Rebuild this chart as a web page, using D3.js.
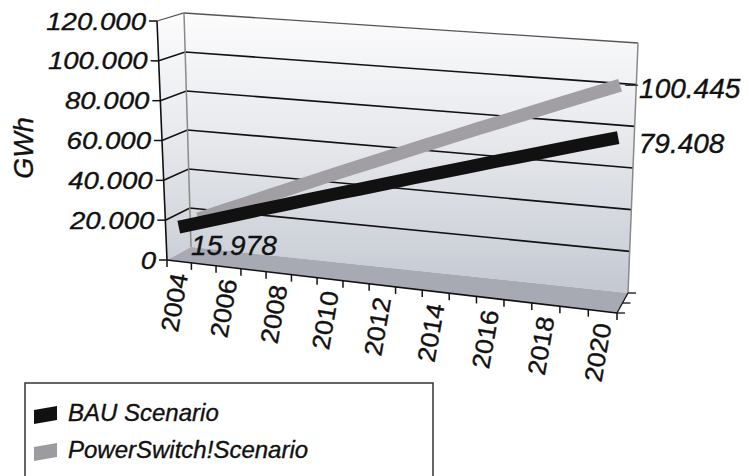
<!DOCTYPE html>
<html>
<head>
<meta charset="utf-8">
<script src="https://cdn.jsdelivr.net/npm/d3@7"></script>
<style>
  body { margin: 0; background: #fff; }
  svg { display: block; }
  text { font-family: "Liberation Sans", Arial, sans-serif; fill: #111; stroke: #111; stroke-width: 0.35px; }
</style>
</head>
<body>
<svg id="chart" width="749" height="476"></svg>
<script>
// data
const years = [2004, 2005, 2006, 2007, 2008, 2009, 2010, 2011, 2012, 2013, 2014, 2015, 2016, 2017, 2018, 2019, 2020]
const bau = [15.978, 19.9, 23.9, 27.9, 31.8, 35.8, 39.8, 43.7, 47.7, 51.7, 55.6, 59.6, 63.6, 67.5, 71.5, 75.5, 79.408]
const powerSwitch = [15.978, 21.3, 26.5, 31.8, 37.1, 42.4, 47.7, 52.9, 58.2, 63.5, 68.8, 74.1, 79.3, 84.6, 89.9, 95.2, 100.445]
const yTicks = [0, 20, 40, 60, 80, 100, 120]
const yTickLabels = ["0", "20.000", "40.000", "60.000", "80.000", "100.000", "120.000"]
const labelYears = [2004, 2006, 2008, 2010, 2012, 2014, 2016, 2018, 2020]
const seriesNames = ["BAU Scenario", "PowerSwitch!Scenario"]

const svg = d3.select("#chart")

//corners of the 3d box on screen (front/back, left/right, bottom/top)
const A = [167, 260], B = [157, 21]   // front left
const E = [617, 313], F = [626, 60]   // front right
const C = [191, 247], D = [184, 13]   // back left
const G = [628, 293], H = [638, 43]   // back right

//perspective: categories get wider to the right
const depthRatio = 1.09
const warp = t => t / (depthRatio + (1 - depthRatio) * t)

const xScale = d3.scaleLinear().domain([2003.5, 2020.5]).range([0, 1])
const vScale = d3.scaleLinear().domain([0, 120]).range([0, 1])

function lerp(p, q, t){ return [p[0] + (q[0] - p[0]) * t, p[1] + (q[1] - p[1]) * t] }
function project(u, v, w){
    const front = lerp(lerp(A, E, u), lerp(B, F, u), v)
    const back = lerp(lerp(C, G, u), lerp(D, H, u), v)
    return lerp(front, back, w)
}
const uOf = year => warp(xScale(year))

//wall gradient
const defs = svg.append("defs")
const grad = defs.append("linearGradient").attr("id", "wall")
    .attr("gradientUnits", "userSpaceOnUse")
    .attr("x1", 0).attr("y1", 13).attr("x2", 0).attr("y2", 300)
grad.append("stop").attr("offset", 0).attr("stop-color", "#fcfcfd")
grad.append("stop").attr("offset", 0.45).attr("stop-color", "#e6e8ec")
grad.append("stop").attr("offset", 1).attr("stop-color", "#c2c7d0")

const poly = pts => "M" + pts.map(p => p.join(",")).join("L") + "Z"

// walls and floor
svg.append("path").attr("d", poly([A, B, D, C])).attr("fill", "url(#wall)")
svg.append("path").attr("d", poly([C, D, H, G])).attr("fill", "url(#wall)")
svg.append("path").attr("d", poly([A, E, G, C])).attr("fill", "#a7aab2")

// gridlines: left wall then back wall
for(const t of yTicks.slice(1)){
    const v = vScale(t)
    const pts = [project(0, v, 0), project(0, v, 1), project(1, v, 1)]
    svg.append("path")
        .attr("d", d3.line()(pts))
        .attr("fill", "none")
        .attr("stroke", t === 120 ? "#555" : "#111")
        .attr("stroke-width", t === 120 ? 1.3 : 1.6)
}
// wall edges
svg.append("path").attr("d", d3.line()([C, D])).attr("stroke", "#8a8a8a").attr("stroke-width", 1.5)
svg.append("path").attr("d", d3.line()([G, H])).attr("stroke", "#8a8a8a").attr("stroke-width", 1.5)

// series ribbons (gray is further back)
const line = d3.line()
const ribbon = (values, depth) => line(years.map((y, i) => project(uOf(y), vScale(values[i]), depth)))

svg.append("path")
    .attr("d", ribbon(powerSwitch, 0.85))
    .attr("fill", "none").attr("stroke", "#a19fa3").attr("stroke-width", 13)
svg.append("path")
    .attr("d", ribbon(bau, 0.3))
    .attr("fill", "none").attr("stroke", "#111").attr("stroke-width", 13)
    .attr("stroke-linecap", "square")

// front value axis
svg.append("path").attr("d", d3.line()([A, B])).attr("stroke", "#111").attr("stroke-width", 1.6)
for(let i = 0; i < yTicks.length; i++){
    const p = project(0, vScale(yTicks[i]), 0)
    svg.append("line")
        .attr("x1", p[0] - 8).attr("x2", p[0]).attr("y1", p[1]).attr("y2", p[1])
        .attr("stroke", "#111").attr("stroke-width", 1.5)
    svg.append("text")
        .attr("transform", `translate(${p[0] - 11},${p[1]}) scale(1.15,1)`)
        .attr("text-anchor", "end").attr("dy", "0.36em")
        .style("font-size", "24px").style("font-style", "italic")
        .text(yTickLabels[i])
}
svg.append("text")
    .attr("transform", "translate(33,148) rotate(-90)")
    .attr("text-anchor", "middle")
    .style("font-size", "27px").style("font-style", "italic")
    .text("GWh")

// floor front edge, ticks and right edge
svg.append("path").attr("d", d3.line()([A, E])).attr("stroke", "#111").attr("stroke-width", 1.6)
svg.append("path").attr("d", d3.line()([E, G])).attr("stroke", "#111").attr("stroke-width", 1.3)
for(let i = 0; i <= years.length; i++){
    const p = project(warp(i / years.length), 0, 0)
    svg.append("line")
        .attr("x1", p[0]).attr("x2", p[0]).attr("y1", p[1]).attr("y2", p[1] + 7)
        .attr("stroke", "#111").attr("stroke-width", 1.5)
}
for(const w of [0, 0.5, 1]){
    const p = project(1, 0, w)
    svg.append("line")
        .attr("x1", p[0]).attr("x2", p[0] + 8).attr("y1", p[1]).attr("y2", p[1])
        .attr("stroke", "#111").attr("stroke-width", 1.3)
}
for(const y of labelYears){
    const p = project(uOf(y), 0, 0)
    svg.append("text")
        .attr("transform", `translate(${p[0]},${p[1] + 12}) rotate(-80) scale(1.06,1)`)
        .attr("text-anchor", "end").attr("dy", "0.36em")
        .style("font-size", "25px")
        .text(y)
}

// data labels
const fmt = v => d3.format(".3f")(v)
const bauStart = project(uOf(years[0]), vScale(bau[0]), 0.3)
const bauEnd = project(uOf(years[years.length - 1]), vScale(bau[bau.length - 1]), 0.3)
const psEnd = project(uOf(years[years.length - 1]), vScale(powerSwitch[powerSwitch.length - 1]), 0.85)
const dataLabel = (x, y, txt) => svg.append("text")
    .attr("x", x).attr("y", y)
    .style("font-size", "28px").style("font-style", "italic")
    .text(txt)
dataLabel(bauStart[0] + 6, bauStart[1] + 29, fmt(bau[0]))
dataLabel(psEnd[0] + 19, psEnd[1] + 13, fmt(powerSwitch[powerSwitch.length - 1]))
dataLabel(bauEnd[0] + 27, bauEnd[1] + 14, fmt(bau[bau.length - 1]))
svg.append("line")
    .attr("x1", psEnd[0] + 5).attr("x2", psEnd[0] + 18).attr("y1", psEnd[1]).attr("y2", psEnd[1])
    .attr("stroke", "#333").attr("stroke-width", 1.3)

// legend
svg.append("rect")
    .attr("x", 25).attr("y", 383).attr("width", 408).attr("height", 120)
    .attr("fill", "#fff").attr("stroke", "#333").attr("stroke-width", 1.5)
const legendColors = ["#111", "#9c9ba0"]
seriesNames.forEach((name, i) => {
    const y0 = 406 + i * 37
    svg.append("path")
        .attr("d", poly([[34, y0 + 4], [57, y0], [57, y0 + 14], [34, y0 + 18]]))
        .attr("fill", legendColors[i])
    svg.append("text")
        .attr("x", 68).attr("y", y0 + 15)
        .style("font-size", "24px").style("font-style", "italic")
        .text(name)
})
</script>
</body>
</html>
